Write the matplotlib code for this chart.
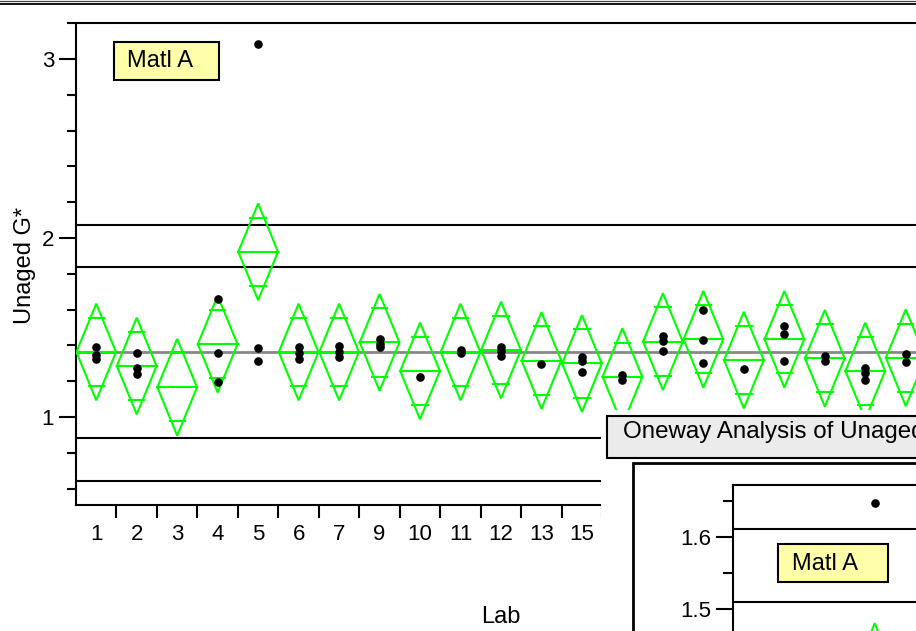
import matplotlib
matplotlib.use('Agg')
import matplotlib.pyplot as plt
from matplotlib.patches import Rectangle
from matplotlib.ticker import FixedLocator, MultipleLocator
import numpy as np

plt.rcParams['font.family'] = ['Liberation Sans', 'DejaVu Sans']

# Data
labs = ['1', '2', '3', '4', '5', '6', '7', '9', '10', '11', '12', '13', '15',
        '16', '17', '18', '19', '20', '21', '22', '23']
lab_means = [1.363, 1.285, 1.166, 1.407, 1.923, 1.363, 1.363, 1.417, 1.257, 1.363, 1.374,
             1.315, 1.299, 1.225, 1.421, 1.434, 1.318, 1.434, 1.328, 1.257, 1.331]
ci_half = 0.27
lab_obs = [
    [1.393, 1.346, 1.324],
    [1.360, 1.275, 1.240],
    [],
    [1.658, 1.360, 1.194],
    [3.085, 1.387, 1.315],
    [1.393, 1.356, 1.324],
    [1.397, 1.365, 1.337],
    [1.434, 1.410, 1.393],
    [1.222],
    [1.374, 1.357],
    [1.392, 1.370, 1.340],
    [1.296],
    [1.334, 1.315, 1.253],
    [1.235, 1.207],
    [1.453, 1.426, 1.370],
    [1.598, 1.430, 1.300],
    [1.266],
    [1.510, 1.464, 1.315],
    [1.341, 1.313],
    [1.275, 1.244, 1.207],
    [1.352, 1.305],
]
grand_mean = 1.363
limit_lines = [2.073, 1.838, 0.884, 0.642]
n_shown = 13  # labels to the right of this are under the second window

# second (partly hidden) window
inner_limits = [1.611, 1.510]
inner_pos = [3]
inner_obs = [1.648]
inner_means = [1.413]
inner_ci = 0.067

W, H = 916, 631
green = '#00FF00'

fig = plt.figure(figsize=(W / 100, H / 100), dpi=100)
fig.patch.set_facecolor('white')

# main plot
ax = fig.add_axes([76 / W, 1 - 505 / H, 850 / W, (505 - 23.2) / H], zorder=1)
ax.set_xlim(0, len(labs))
ax.set_ylim(0.5084, 3.2)

ax.axhline(grand_mean, color='#888888', lw=2.0, zorder=1)
for v in limit_lines:
    ax.axhline(v, color='black', lw=1.5, zorder=2)

w = 0.49
ow = 0.19
for i, m in enumerate(lab_means):
    c = i + 0.5
    ax.plot([c - w, c, c + w, c, c - w], [m, m + ci_half, m, m - ci_half, m],
            color=green, lw=1.5, zorder=3, solid_joinstyle='miter')
    ax.plot([c - w, c + w], [m, m], color=green, lw=1.5, zorder=3)
    for s in (1, -1):
        y = m + s * ci_half / np.sqrt(2)
        ax.plot([c - ow, c + ow], [y, y], color=green, lw=1.5, zorder=3)
    if lab_obs[i]:
        ax.plot([c] * len(lab_obs[i]), lab_obs[i], 'o', color='black', ms=6.2,
                zorder=4, mec='none')

for s in ['left', 'top', 'bottom']:
    ax.spines[s].set_linewidth(1.5)
ax.spines['right'].set_visible(False)

ax.xaxis.set_major_locator(FixedLocator(np.arange(1, len(labs))))
ax.xaxis.set_minor_locator(FixedLocator(np.arange(len(labs)) + 0.5))
ax.set_xticklabels(labs, minor=True)
ax.tick_params(axis='x', which='major', length=9.4, width=1.5, labelbottom=False)
ax.tick_params(axis='x', which='minor', length=0, pad=14, labelsize=16)
for t in ax.xaxis.get_minorticklabels()[n_shown:]:
    t.set_visible(False)

ax.yaxis.set_major_locator(FixedLocator([1, 2, 3]))
ax.yaxis.set_minor_locator(MultipleLocator(0.2))
ax.tick_params(axis='y', which='major', length=12.2, width=1.5, labelsize=16, pad=3.5)
ax.tick_params(axis='y', which='minor', length=6.5, width=1.5)

ax.set_xlabel('Lab', fontsize=17)
ax.xaxis.set_label_coords(0.5, -(617 - 505) / 481.8)
ax.xaxis.label.set_va('center')
ax.set_ylabel('Unaged G*', fontsize=17)
ax.yaxis.set_label_coords((25 - 76) / 850, (505 - 265) / 481.8)
ax.yaxis.label.set_va('center')

# overlay in pixel coordinates: window chrome
ov = fig.add_axes([0, 0, 1, 1], zorder=5)
ov.set_xlim(0, W)
ov.set_ylim(H, 0)
ov.axis('off')

ov.plot([0, W], [1.0, 1.0], color='#444444', lw=0.9)
ov.plot([0, W], [4.3, 4.3], color='black', lw=1.3)

ov.add_patch(Rectangle((114, 41.7), 105, 38.3, fc='#FFFFAA', ec='black', lw=1.5))
ov.text(127, 61, 'Matl A', fontsize=17, va='center', ha='left')

ov.add_patch(Rectangle((601, 410), 400, 300, fc='white', ec='none'))
ov.add_patch(Rectangle((607, 415.7), 400, 42.6, fc='#EBEBEB', ec='black', lw=1.5))
ov.text(623, 432, 'Oneway Analysis of Unaged G* By Lab', fontsize=17.4,
        va='center', ha='left')
ov.add_patch(Rectangle((633.3, 462.7), 400, 300, fc='white', ec='black', lw=2))

# inner plot of the second window
ax2 = fig.add_axes([733 / W, 0, 324 / W, 146 / H], zorder=6)
ax2.set_xlim(0, 8)
ax2.set_ylim(1.4693, 1.6729)
for v in inner_limits:
    ax2.axhline(v, color='black', lw=1.5)
for p, m in zip(inner_pos, inner_means):
    c = p + 0.5
    ax2.plot([c - w, c, c + w, c, c - w], [m, m + inner_ci, m, m - inner_ci, m],
             color=green, lw=1.5, solid_joinstyle='miter')
ax2.plot(np.array(inner_pos) + 0.5, inner_obs, 'o', color='black', ms=6.2, mec='none')
ax2.spines['left'].set_linewidth(1.5)
ax2.spines['top'].set_linewidth(1.5)
ax2.spines['right'].set_visible(False)
ax2.spines['bottom'].set_visible(False)
ax2.set_xticks([])
ax2.yaxis.set_major_locator(FixedLocator([1.5, 1.6]))
ax2.yaxis.set_minor_locator(FixedLocator([1.55, 1.65]))
ax2.tick_params(axis='y', which='major', length=12.2, width=1.5, labelsize=16, pad=3.5)
ax2.tick_params(axis='y', which='minor', length=7.2, width=1.5)

ov2 = fig.add_axes([0, 0, 1, 1], zorder=7)
ov2.set_xlim(0, W)
ov2.set_ylim(H, 0)
ov2.axis('off')
ov2.add_patch(Rectangle((778.3, 544), 110, 37.7, fc='#FFFFAA', ec='black', lw=1.5))
ov2.text(791.7, 564, 'Matl A', fontsize=17, va='center', ha='left')

fig.savefig('out.png', dpi=100)
